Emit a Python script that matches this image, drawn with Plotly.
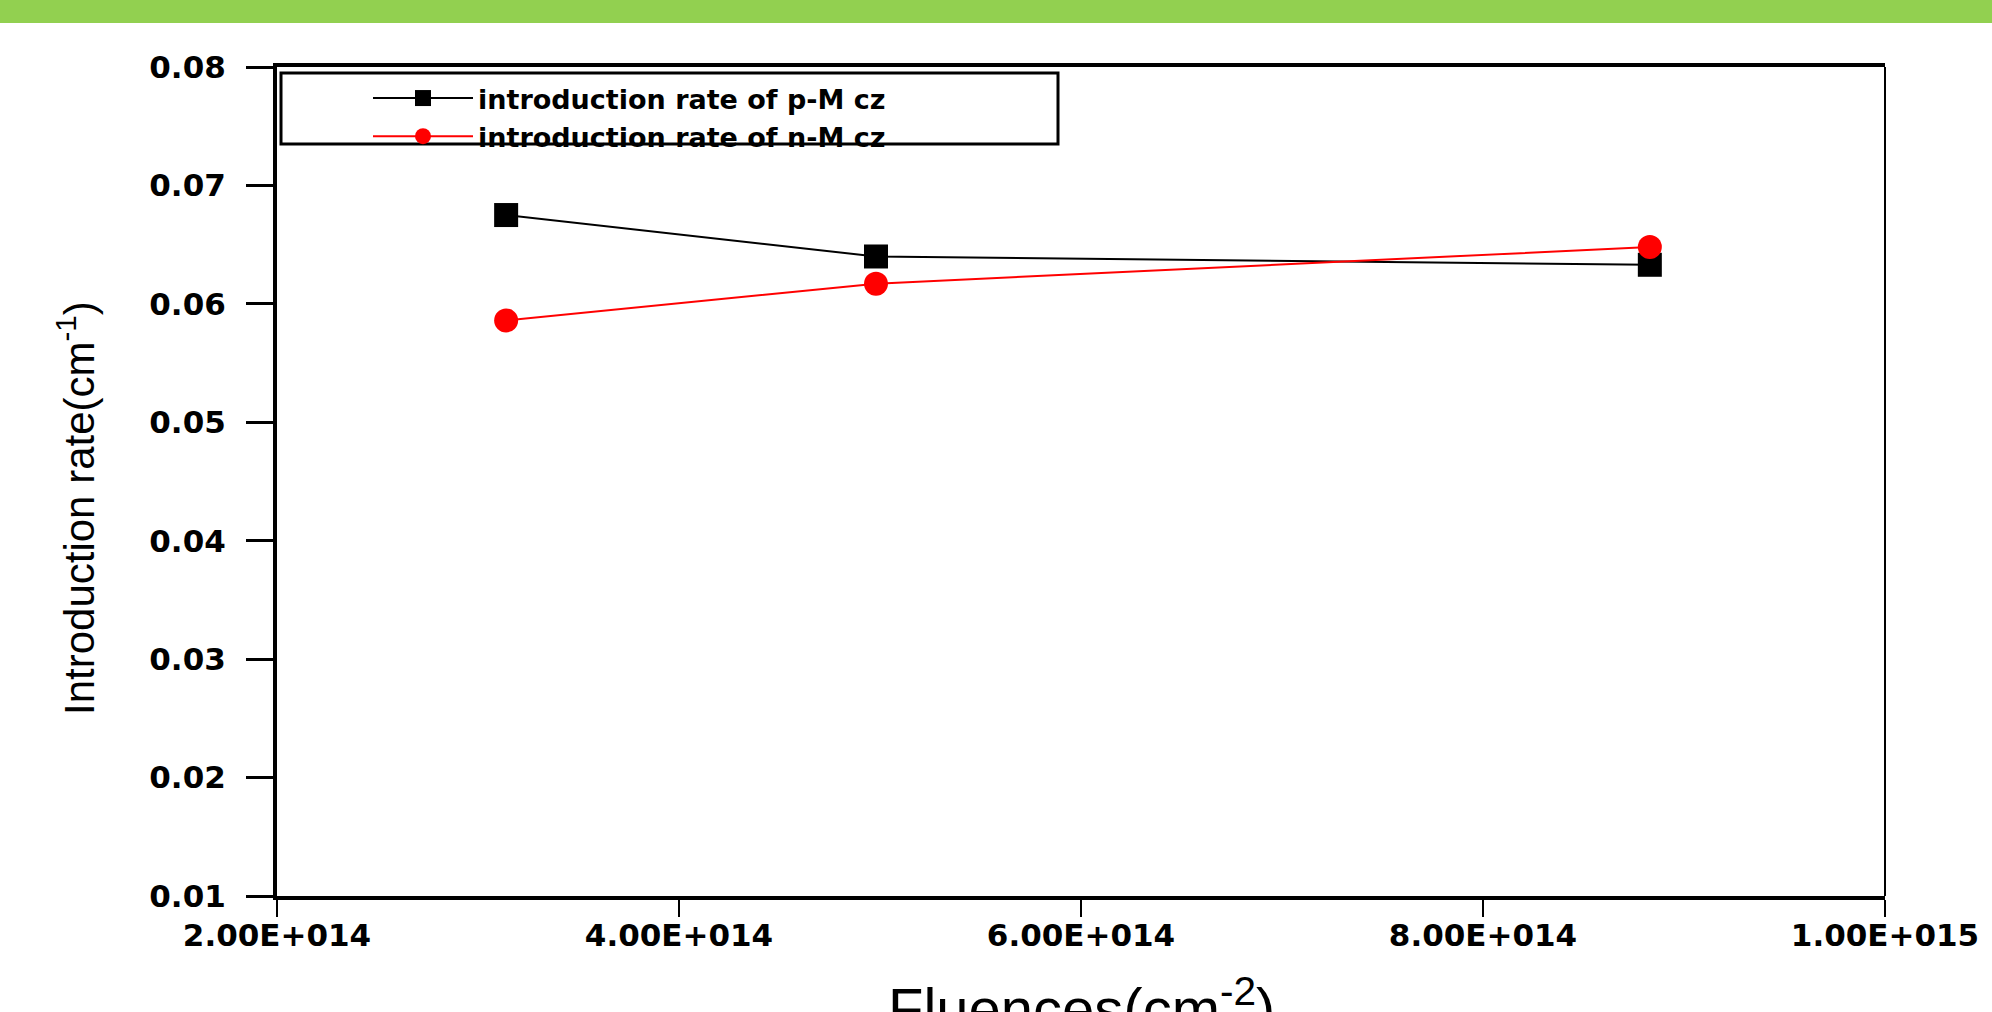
import plotly.graph_objects as go

# ---- data ----
fluence = [3.14e14, 4.98e14, 8.83e14]
p_mcz = [0.0675, 0.0640, 0.0633]
n_mcz = [0.0586, 0.0617, 0.0648]
x_tickvals = [2e14, 4e14, 6e14, 8e14, 1e15]
x_ticktext = ["2.00E+014", "4.00E+014", "6.00E+014", "8.00E+014", "1.00E+015"]
y_tickvals = [0.01, 0.02, 0.03, 0.04, 0.05, 0.06, 0.07, 0.08]
series_names = ["introduction rate of p-M cz", "introduction rate of n-M cz"]

W, H = 1992, 1012
L, R, T, B = 277, 1885, 67, 896
pw, ph = R - L, B - T

def px(xp):
    return (xp - L) / pw

def py(yp):
    return 1 - (yp - T) / ph

fig = go.Figure()
fig.add_trace(go.Scatter(
    x=fluence, y=p_mcz, name=series_names[0], mode="lines+markers",
    line=dict(color="black", width=2),
    marker=dict(symbol="square", size=24, color="black"),
))
fig.add_trace(go.Scatter(
    x=fluence, y=n_mcz, name=series_names[1], mode="lines+markers",
    line=dict(color="#ff0000", width=2),
    marker=dict(symbol="circle", size=24, color="#ff0000"),
))

tickfont = dict(family="DejaVu Sans", size=31, color="black", weight="bold")

fig.update_layout(
    width=W, height=H,
    margin=dict(l=L, r=W - R, t=T, b=H - B),
    paper_bgcolor="white", plot_bgcolor="white",
    showlegend=True,
    legend=dict(
        x=px(368), y=py(74), xanchor="left", yanchor="top",
        bgcolor="rgba(0,0,0,0)", borderwidth=0,
        font=dict(family="DejaVu Sans", size=27, color="black", weight="bold"),
        itemwidth=100, tracegroupgap=0,
    ),
    xaxis=dict(
        range=[2e14, 1e15], tickvals=x_tickvals, ticktext=x_ticktext,
        showgrid=False, zeroline=False,
        showline=True, linecolor="black", linewidth=4, mirror=True,
        ticks="outside", ticklen=17, tickwidth=2, tickcolor="black",
        tickfont=tickfont, ticklabelstandoff=-8,
    ),
    yaxis=dict(
        range=[0.01, 0.08], tickvals=y_tickvals, tickformat=".2f",
        showgrid=False, zeroline=False,
        showline=True, linecolor="black", linewidth=4,
        ticks="outside", ticklen=27, tickwidth=3, tickcolor="black",
        tickfont=tickfont, ticklabelstandoff=14,
    ),
    shapes=[
        # green banner
        dict(type="rect", xref="paper", yref="paper",
             x0=px(0), x1=px(W), y0=py(23), y1=py(0),
             fillcolor="#92D050", line=dict(width=0), layer="above"),
        # right border (thin)
        dict(type="line", xref="paper", yref="paper",
             x0=1, x1=1, y0=0, y1=1, line=dict(color="black", width=2)),
        # legend box
        dict(type="rect", xref="paper", yref="paper",
             x0=px(281), x1=px(1058), y0=py(144), y1=py(73),
             line=dict(color="black", width=3), fillcolor="rgba(0,0,0,0)"),
    ],
    annotations=[
        dict(text="Introduction rate(cm<sup>-1</sup>)", textangle=-90,
             xref="paper", yref="paper", x=px(76), y=py(508),
             xanchor="center", yanchor="middle", showarrow=False,
             font=dict(family="Liberation Sans", size=42, color="black")),
        dict(text="Fluences(cm<sup>-2</sup>)",
             xref="paper", yref="paper", x=0.5, y=py(966),
             xanchor="center", yanchor="top", showarrow=False,
             font=dict(family="Liberation Sans", size=58, color="black")),
    ],
)

fig.write_html(
    "out.html",
    config={"displayModeBar": False},
    post_script="document.body.style.margin='0';document.body.style.padding='0';",
)
